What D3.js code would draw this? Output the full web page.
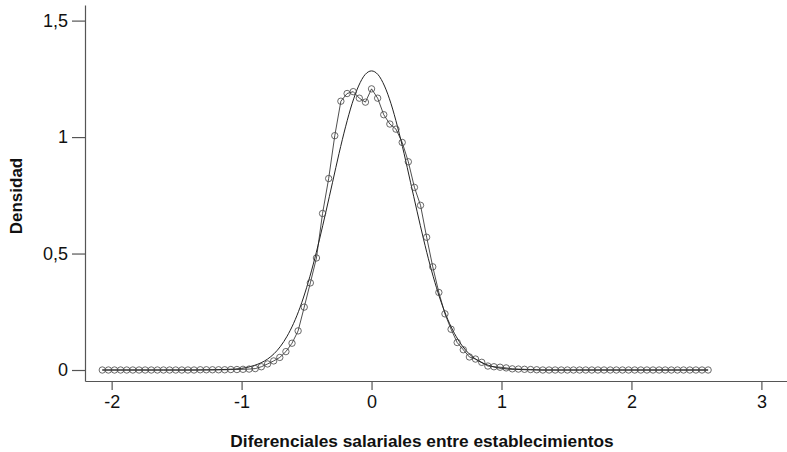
<!DOCTYPE html>
<html>
<head>
<meta charset="utf-8">
<script src="https://cdn.jsdelivr.net/npm/d3@7"></script>
<style>
  body { margin: 0; background: #fff; }
  text { font-family: "Liberation Sans", Arial, Helvetica, sans-serif; }
</style>
</head>
<body>
<div id="chart"></div>
<script>
// kernel density estimate (circles) - grid points
var kdeX = [
  -2.072, -2.025, -1.978, -1.931, -1.884, -1.837, -1.789, -1.742, -1.695, -1.648,
  -1.601, -1.554, -1.507, -1.460, -1.413, -1.366, -1.318, -1.271, -1.224, -1.177,
  -1.130, -1.083, -1.036, -0.989, -0.942, -0.895, -0.848, -0.800, -0.753, -0.706,
  -0.659, -0.612, -0.565, -0.518, -0.471, -0.424, -0.377, -0.330, -0.283, -0.236,
  -0.188, -0.141, -0.094, -0.047, 0.000, 0.047, 0.094, 0.141, 0.188, 0.236,
  0.283, 0.330, 0.377, 0.424, 0.471, 0.518, 0.565, 0.612, 0.659, 0.706,
  0.753, 0.800, 0.848, 0.895, 0.942, 0.989, 1.036, 1.083, 1.130, 1.177,
  1.224, 1.271, 1.318, 1.366, 1.413, 1.460, 1.507, 1.554, 1.601, 1.648,
  1.695, 1.742, 1.789, 1.837, 1.884, 1.931, 1.978, 2.025, 2.072, 2.119,
  2.166, 2.213, 2.260, 2.307, 2.354, 2.401, 2.449, 2.496, 2.543, 2.590
];

// kernel density estimate (circles) - density values
var kdeY = [
  0.000, 0.000, 0.000, 0.000, 0.000, 0.000, 0.000, 0.000, 0.000, 0.000,
  0.000, 0.000, 0.000, 0.000, 0.000, 0.000, 0.001, 0.001, 0.001, 0.001,
  0.001, 0.002, 0.002, 0.003, 0.004, 0.006, 0.014, 0.026, 0.039, 0.054,
  0.079, 0.115, 0.168, 0.270, 0.374, 0.481, 0.672, 0.822, 1.006, 1.154,
  1.187, 1.195, 1.167, 1.150, 1.207, 1.167, 1.096, 1.056, 1.034, 0.977,
  0.894, 0.784, 0.707, 0.570, 0.443, 0.333, 0.241, 0.175, 0.118, 0.087,
  0.056, 0.047, 0.033, 0.017, 0.014, 0.012, 0.009, 0.005, 0.004, 0.003,
  0.002, 0.001, 0.000, 0.000, 0.000, 0.000, 0.000, 0.000, 0.000, 0.000,
  0.000, 0.000, 0.000, 0.000, 0.000, 0.000, 0.000, 0.000, 0.000, 0.000,
  0.000, 0.000, 0.000, 0.000, 0.000, 0.000, 0.000, 0.000, 0.000, 0.000
];

// normal reference curve (solid line)
var normX = [
  -2.072, -1.6, -1.3, -1.2, -1.1, -1.05, -1.0, -0.95, -0.9, -0.85, -0.8, -0.75, -0.7,
  -0.65, -0.6, -0.55, -0.5, -0.45, -0.4, -0.35, -0.3, -0.25, -0.2, -0.15, -0.1,
  -0.05, 0.0, 0.05, 0.1, 0.15, 0.2, 0.25, 0.3, 0.35, 0.4, 0.45, 0.5,
  0.55, 0.6, 0.65, 0.7, 0.75, 0.8, 0.85, 0.9, 0.95, 1.0, 1.05, 1.1, 1.2, 1.3, 1.6, 2.590
];
var normY = [
  0.000, 0.000, 0.000, 0.001, 0.003, 0.004, 0.007, 0.012, 0.020, 0.031, 0.047, 0.070, 0.102,
  0.145, 0.200, 0.269, 0.353, 0.451, 0.562, 0.682, 0.806, 0.930, 1.044, 1.143, 1.219,
  1.268, 1.284, 1.268, 1.219, 1.143, 1.044, 0.930, 0.806, 0.682, 0.562, 0.451, 0.353,
  0.269, 0.200, 0.145, 0.102, 0.070, 0.047, 0.031, 0.020, 0.012, 0.007, 0.004, 0.003, 0.001, 0.000, 0.000, 0.000
];

// ticks
var xTicks = [-2, -1, 0, 1, 2, 3];
var xTickLabels = ["-2", "-1", "0", "1", "2", "3"];
var yTicks = [0, 0.5, 1, 1.5];
var yTickLabels = ["0", "0,5", "1", "1,5"];

// svg size
var svgWidth = 787;
var svgHeight = 452;

var svg = d3.select("#chart")
  .append("svg")
  .attr("width", svgWidth)
  .attr("height", svgHeight);

// scales (axis lines run a bit past the data, as in the original)
var x = d3.scaleLinear()
  .domain([-2.205, 3.197])
  .range([85, 787]);

var y = d3.scaleLinear()
  .domain([-0.0472, 1.567])
  .range([381, 5]);

// axes
var xAxis = d3.axisBottom(x)
  .tickValues(xTicks)
  .tickFormat((d, i) => xTickLabels[i])
  .tickSizeInner(9)
  .tickSizeOuter(0)
  .tickPadding(5);

var yAxis = d3.axisLeft(y)
  .tickValues(yTicks)
  .tickFormat((d, i) => yTickLabels[i])
  .tickSizeInner(13)
  .tickSizeOuter(0)
  .tickPadding(4);

var gx = svg.append("g")
  .attr("transform", "translate(0,381)")
  .call(xAxis);

var gy = svg.append("g")
  .attr("transform", "translate(85,0)")
  .call(yAxis);

[gx, gy].forEach(function(g) {
  g.select(".domain").attr("stroke", "#555").attr("stroke-width", 1.2);
  g.selectAll(".tick line").attr("stroke", "#555").attr("stroke-width", 1.2);
  g.selectAll(".tick text")
    .attr("fill", "#111")
    .attr("font-size", "18px")
    .attr("font-family", "'Liberation Sans', Arial, Helvetica, sans-serif");
});

// normal curve
var normLine = d3.line()
  .x((d, i) => x(normX[i]))
  .y(d => y(d))
  .curve(d3.curveMonotoneX);

svg.append("path")
  .datum(normY)
  .attr("d", normLine)
  .attr("fill", "none")
  .attr("stroke", "#222")
  .attr("stroke-width", 1);

// kernel density line
var kdeLine = d3.line()
  .x((d, i) => x(kdeX[i]))
  .y(d => y(d));

svg.append("path")
  .datum(kdeY)
  .attr("d", kdeLine)
  .attr("fill", "none")
  .attr("stroke", "#222")
  .attr("stroke-width", 0.8);

// circles
svg.append("g").selectAll("circle")
  .data(kdeY)
  .enter()
  .append("circle")
  .attr("cx", (d, i) => x(kdeX[i]))
  .attr("cy", d => y(d))
  .attr("r", 3.2)
  .attr("fill", "none")
  .attr("stroke", "#444")
  .attr("stroke-width", 0.8);

// axis titles
svg.append("text")
  .attr("transform", "translate(22,196) rotate(-90)")
  .attr("text-anchor", "middle")
  .attr("font-size", "17px")
  .attr("font-weight", "bold")
  .attr("fill", "#111")
  .text("Densidad");

svg.append("text")
  .attr("x", 422)
  .attr("y", 447)
  .attr("text-anchor", "middle")
  .attr("font-size", "17.3px")
  .attr("font-weight", "bold")
  .attr("fill", "#111")
  .text("Diferenciales salariales entre establecimientos");
</script>
</body>
</html>
